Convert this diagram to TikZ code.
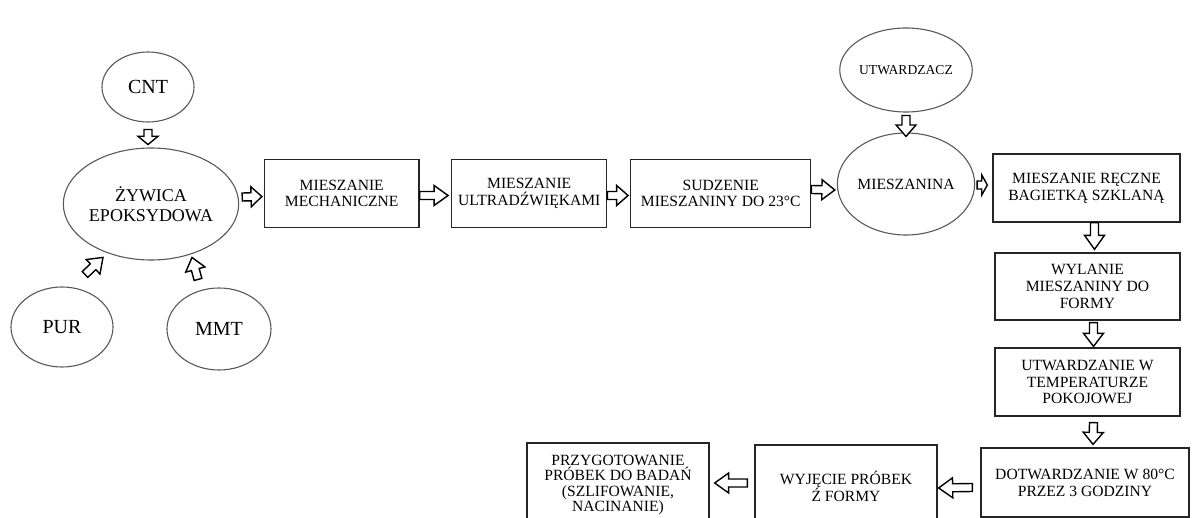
\documentclass[tikz,border=0pt]{standalone}
\usepackage{fontspec}
\setmainfont{Liberation Serif}
\usetikzlibrary{shapes.geometric,calc}

% hollow block arrow from a tail point to a tip point
\newcommand\barrow[2]{%
  \path #1 coordinate (bat) #2 coordinate (bah);
  \pgfpointdiff{\pgfpointanchor{bat}{center}}{\pgfpointanchor{bah}{center}}%
  \pgfgetlastxy{\bdx}{\bdy}%
  \pgfmathsetmacro\balen{veclen(\bdx,\bdy)}%
  \pgfmathsetmacro\baang{atan2(\bdy,\bdx)}%
  \pgfmathsetmacro\bahl{min(14,0.55*\balen)}%
  \pgfmathsetmacro\bak{\balen-\bahl}%
  \draw[blockarrow, shift={(bat)}, rotate=\baang]
    (0pt,-4pt) -- (\bak pt,-4pt) -- (\bak pt,-10pt) -- (\balen pt,0pt)
    -- (\bak pt,10pt) -- (\bak pt,4pt) -- (0pt,4pt) -- cycle;
}

\tikzset{
  blockarrow/.style={draw=black, fill=white, line width=1.4pt, line join=miter},
  stepbox/.style={draw=black!85, line width=1.3pt, rectangle, align=center, inner sep=0pt,
    font=\fontsize{15.6}{16.8}\selectfont},
  oval/.style={draw=black!65, line width=1.1pt, ellipse, align=center, inner sep=0pt},
}

\begin{document}
\begin{tikzpicture}[x=1pt,y=-1pt]
\useasboundingbox (0,0) rectangle (1192,518);
\clip (0,0) rectangle (1192,518);

% ingredients around the resin
\node[oval, minimum width=92pt, minimum height=70pt, font=\fontsize{20}{22}\selectfont] (cnt) at (148,87) {CNT};
\node[oval, minimum width=156pt, minimum height=112pt, font=\fontsize{18}{19.5}\selectfont] (zyw) at (151,204) {ŻYWICA\\EPOKSYDOWA};
\node[oval, minimum width=102pt, minimum height=80pt, font=\fontsize{20}{22}\selectfont] (pur) at (62,327) {PUR};
\node[oval, minimum width=104pt, minimum height=82pt, font=\fontsize{20}{22}\selectfont] (mmt) at (219,329) {MMT};

% mixing steps
\node[stepbox, minimum width=154.5pt, minimum height=68pt] (mech) at (341.75,193.5) {MIESZANIE\\MECHANICZNE};
\node[stepbox, minimum width=155pt, minimum height=68pt] (ultra) at (529.2,193.5) {MIESZANIE\\ULTRADŹWIĘKAMI};
\node[stepbox, minimum width=180pt, minimum height=68pt] (sudz) at (720.7,193.5) {SUDZENIE\\MIESZANINY DO 23°C};

\node[oval, minimum width=114pt, minimum height=84pt, font=\fontsize{13.6}{15}\selectfont] (utw) at (906,70) {UTWARDZACZ};
\node[oval, minimum width=118pt, minimum height=102pt, font=\fontsize{15.6}{17}\selectfont] (mieszanina) at (906,184) {MIESZANINA};

% right column
\node[stepbox, minimum width=187pt, minimum height=68pt] (reczne) at (1086.5,188) {MIESZANIE RĘCZNE\\BAGIETKĄ SZKLANĄ};
\node[stepbox, minimum width=185pt, minimum height=67pt] (wylanie) at (1087.5,286.5) {WYLANIE\\MIESZANINY DO\\FORMY};
\node[stepbox, minimum width=185pt, minimum height=68pt] (utwardzanie) at (1087.5,382) {UTWARDZANIE W\\TEMPERATURZE\\POKOJOWEJ};
\node[stepbox, minimum width=208pt, minimum height=69pt] (dotw) at (1085,482.5) {DOTWARDZANIE W 80°C\\PRZEZ 3 GODZINY};

% bottom row
\node[stepbox, minimum width=182pt, minimum height=82pt] (wyj) at (846,486) {WYJĘCIE PRÓBEK\\Ź FORMY};
\node[stepbox, minimum width=182pt, minimum height=84pt, font=\fontsize{15.6}{15.6}\selectfont] (przyg) at (618,485) {PRZYGOTOWANIE\\PRÓBEK DO BADAŃ\\(SZLIFOWANIE,\\NACINANIE)};

% connectors
\barrow{($(cnt.south)+(0,7)$)}{($(cnt.south)+(0,22)$)}
\barrow{($(pur.north)+(23,-12)$)}{($(pur.north)+(41,-29)$)}
\barrow{($(mmt.north)+(-21,-8)$)}{($(mmt.north)+(-27,-30)$)}
\barrow{($(zyw.east)+(3,-7)$)}{($(mech.west)+(-2,3)$)}
\barrow{($(mech.east)+(0,2)$)}{($(ultra.west)+(-3,2)$)}
\barrow{($(ultra.east)+(0,2)$)}{($(sudz.west)+(-2,2)$)}
\barrow{($(sudz.east)+(0,-4)$)}{($(mieszanina.west)+(-2,6)$)}
\barrow{($(utw.south)+(0,3)$)}{($(mieszanina.north)+(0,4)$)}
\barrow{($(mieszanina.east)+(2,1)$)}{($(reczne.west)+(-5,-3)$)}
\barrow{($(reczne.south)+(8,0)$)}{($(wylanie.north)+(7,-3)$)}
\barrow{($(wylanie.south)+(6,2)$)}{($(utwardzanie.north)+(6,-1)$)}
\barrow{($(utwardzanie.south)+(6,6)$)}{($(dotw.north)+(8,-3)$)}
\barrow{($(dotw.west)+(-8,5)$)}{($(wyj.east)+(1,2)$)}
\barrow{($(wyj.west)+(-7,-3)$)}{($(przyg.east)+(5,-2)$)}
\end{tikzpicture}
\end{document}
